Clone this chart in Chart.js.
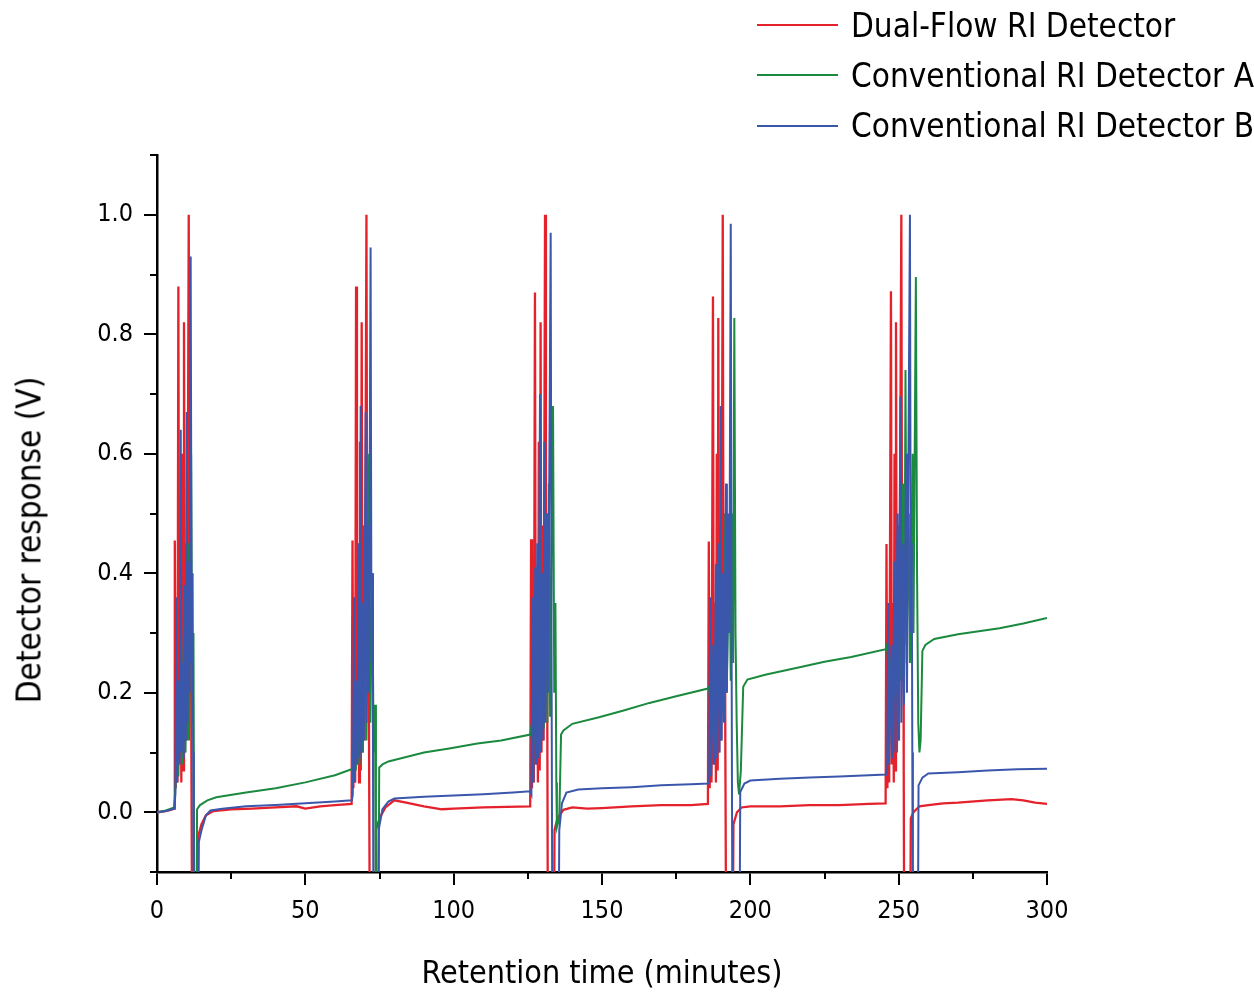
<!DOCTYPE html>
<html>
<head>
<meta charset="utf-8">
<script src="https://cdn.jsdelivr.net/npm/chart.js@4.4.1/dist/chart.umd.min.js"></script>
<style>
  body { margin: 0; background: #fff; }
  #wrap { position: relative; width: 1254px; height: 992px; font-family: "DejaVu Sans Condensed", "DejaVu Sans", sans-serif; font-stretch: condensed; color: #000; }
  #chart { position: absolute; left: 0; top: 0; }
  .legend-row { position: absolute; left: 757px; height: 33px; display: flex; align-items: center; font-size: 33px; line-height: 1; white-space: nowrap; }
  .legend-line { width: 81px; height: 2px; margin-right: 13px; }
  #ytitle { position: absolute; left: 28.5px; top: 540px; font-size: 33px; line-height: 1; white-space: nowrap; transform: translate(-50%, -50%) rotate(-90deg); }
</style>
</head>
<body>
<div id="wrap">
  <canvas id="chart" width="1254" height="992"></canvas>
  <div id="ytitle">Detector response (V)</div>
</div>
<script>
// ---------- Data (minutes, volts) ----------
const seriesNames = ["Dual-Flow RI Detector", "Conventional RI Detector A", "Conventional RI Detector B"];
const seriesColors = ["#e5212b", "#1b8a3f", "#3b57ac"];

const xTickValues = [0, 50, 100, 150, 200, 250, 300];
const xTickLabels = ["0", "50", "100", "150", "200", "250", "300"];
const xMinorTicks = [25, 75, 125, 175, 225, 275];
const yTickValues = [0, 0.2, 0.4, 0.6, 0.8, 1.0];
const yTickLabels = ["0.0", "0.2", "0.4", "0.6", "0.8", "1.0"];
const yMinorTicks = [-0.1, 0.1, 0.3, 0.5, 0.7, 0.9, 1.1];

const dualFlow = [
  [0, 0.0], [2, 0.001], [4, 0.003], [5.8, 0.006],
  [6.0, 0.455], [6.3, 0.04], [6.6, 0.30], [6.9, 0.05], [7.2, 0.88], [7.5, 0.09], [7.9, 0.35], [8.2, 0.05],
  [8.5, 0.60], [8.8, 0.07], [9.1, 0.82], [9.4, 0.10], [9.8, 0.45], [10.1, 0.12], [10.7, 1.0], [11.0, 0.20],
  [11.3, 0.55], [11.6, 0.08], [11.9, -0.3], [13.6, -0.3], [13.9, -0.04], [15, -0.02], [16.5, -0.005],
  [19, 0.002], [25, 0.005], [32, 0.006], [40, 0.008], [47, 0.010], [50, 0.006], [55, 0.010], [60, 0.012], [65.6, 0.014],
  [65.9, 0.455], [66.2, 0.04], [66.5, 0.32], [66.8, 0.05], [67.1, 0.88], [67.4, 0.08], [67.8, 0.35], [68.1, 0.05],
  [68.4, 0.62], [68.7, 0.07], [69.0, 0.82], [69.3, 0.10], [69.7, 0.48], [70.0, 0.12], [70.6, 1.0], [70.9, 0.22],
  [71.2, 0.58], [71.5, 0.08], [71.8, -0.3], [73.5, -0.3], [73.8, -0.03], [75, -0.01], [77, 0.008], [80, 0.020],
  [84, 0.016], [90, 0.010], [96, 0.005], [100, 0.006], [110, 0.008], [118, 0.009], [125.8, 0.010],
  [126.1, 0.457], [126.4, 0.04], [126.7, 0.30], [127.0, 0.05], [127.4, 0.87], [127.7, 0.08], [128.1, 0.35], [128.4, 0.05],
  [128.7, 0.62], [129.0, 0.07], [129.3, 0.82], [129.6, 0.10], [130.0, 0.48], [130.3, 0.12], [130.8, 1.0], [131.1, 0.22],
  [131.4, 0.50], [131.6, 0.08], [131.8, -0.3], [133.7, -0.3], [134.0, -0.03], [135, -0.01], [137, 0.004], [140, 0.008],
  [145, 0.006], [150, 0.007], [160, 0.010], [170, 0.012], [180, 0.012], [185.7, 0.014],
  [186.0, 0.453], [186.3, 0.04], [186.6, 0.30], [186.9, 0.05], [187.4, 0.863], [187.7, 0.08], [188.1, 0.35], [188.4, 0.05],
  [188.7, 0.60], [189.0, 0.07], [189.2, 0.827], [189.5, 0.10], [189.9, 0.48], [190.2, 0.12], [190.7, 1.0], [191.0, 0.22],
  [191.3, 0.50], [191.6, 0.08], [191.9, -0.3], [194.0, -0.3], [194.3, -0.02], [195.5, 0.0], [197, 0.008], [200, 0.010],
  [210, 0.010], [220, 0.012], [230, 0.012], [240, 0.014], [245.6, 0.015],
  [245.9, 0.449], [246.2, 0.04], [246.5, 0.30], [246.8, 0.05], [247.4, 0.872], [247.7, 0.08], [248.1, 0.35], [248.35, 0.05],
  [248.6, 0.60], [248.85, 0.07], [249.1, 0.82], [249.4, 0.10], [249.8, 0.48], [250.1, 0.12], [250.9, 1.0], [251.2, 0.22],
  [251.5, 0.50], [251.7, 0.08], [251.9, -0.3], [253.8, -0.3], [254.1, -0.01], [255, 0.0], [257, 0.010], [260, 0.012],
  [265, 0.015], [270, 0.016], [280, 0.020], [288, 0.022], [292, 0.020], [296, 0.016], [300, 0.014]
];

const detectorA = [
  [0, 0.0], [3, 0.003], [5.8, 0.008],
  [6.3, 0.05], [6.8, 0.15], [7.2, 0.06], [8.0, 0.25], [8.4, 0.08], [9.2, 0.35], [9.6, 0.10], [10.4, 0.45], [10.8, 0.12],
  [11.5, 0.60], [11.9, 0.15], [12.3, 0.30], [12.6, -0.3], [13.2, -0.3], [13.5, 0.005], [14.5, 0.012], [17, 0.020],
  [20, 0.025], [30, 0.033], [40, 0.040], [50, 0.050], [60, 0.062], [65.6, 0.072],
  [65.9, 0.08], [66.5, 0.12], [67.0, 0.07], [67.8, 0.22], [68.2, 0.08], [69.0, 0.35], [69.4, 0.10], [70.2, 0.45],
  [70.6, 0.12], [71.5, 0.60], [71.9, 0.15], [72.6, 0.40], [73.0, 0.10], [73.5, 0.18], [73.8, -0.3], [74.6, -0.3],
  [74.9, 0.075], [76, 0.080], [78, 0.085], [82, 0.090], [90, 0.100], [99, 0.107], [108, 0.115], [116, 0.120], [125.8, 0.130],
  [126.1, 0.14], [126.7, 0.10], [127.3, 0.16], [128.0, 0.12], [128.7, 0.30], [129.1, 0.13], [130.0, 0.40], [130.4, 0.14],
  [131.2, 0.50], [131.6, 0.15], [132.1, 0.55], [132.5, 0.16], [133.5, 0.68], [133.9, 0.20], [134.3, 0.35], [134.6, 0.05],
  [134.8, -0.025], [135.6, -0.01], [136.2, 0.13], [137, 0.137], [140, 0.148], [149, 0.159], [157, 0.170], [166, 0.183],
  [175, 0.194], [185.7, 0.207],
  [186.1, 0.21], [186.8, 0.16], [187.5, 0.22], [188.2, 0.17], [189.0, 0.30], [189.4, 0.18], [190.3, 0.40], [190.7, 0.19],
  [191.6, 0.50], [192.0, 0.20], [193.0, 0.45], [193.4, 0.22], [194.0, 0.50], [194.2, 0.25], [194.6, 0.827], [195.0, 0.30],
  [195.4, 0.15], [195.8, 0.05], [196.2, 0.03], [196.8, 0.07], [197.6, 0.21], [199, 0.222], [205, 0.230], [217, 0.243],
  [225, 0.252], [234, 0.260], [245.7, 0.273],
  [246.1, 0.28], [246.8, 0.22], [247.6, 0.26], [248.3, 0.20], [249.0, 0.30], [249.4, 0.21], [250.3, 0.45], [250.7, 0.22],
  [251.5, 0.55], [251.9, 0.25], [252.3, 0.74], [252.7, 0.28], [253.4, 0.50], [253.8, 0.25], [254.7, 0.60], [255.0, 0.30],
  [255.8, 0.896], [256.2, 0.40], [256.6, 0.15], [257.0, 0.10], [257.4, 0.12], [258.0, 0.27], [259, 0.280], [262, 0.290],
  [270, 0.298], [284, 0.308], [292, 0.316], [300, 0.325]
];

const detectorB = [
  [0, 0.0], [3, 0.002], [5.8, 0.006],
  [6.2, 0.03], [6.5, 0.36], [6.8, 0.05], [7.3, 0.22], [7.6, 0.08], [8.0, 0.64], [8.3, 0.10], [8.7, 0.25], [9.0, 0.09],
  [9.4, 0.38], [9.7, 0.12], [10.0, 0.67], [10.3, 0.15], [10.7, 0.42], [11.0, 0.20], [11.35, 0.93], [11.7, 0.25],
  [12.0, 0.40], [12.2, 0.10], [12.4, -0.3], [13.8, -0.3], [14.1, -0.05], [15, -0.03], [16.5, -0.005], [18, 0.003],
  [22, 0.006], [30, 0.010], [40, 0.012], [50, 0.015], [60, 0.018], [65.7, 0.020],
  [66.0, 0.03], [66.4, 0.36], [66.7, 0.05], [67.2, 0.22], [67.5, 0.08], [68.0, 0.45], [68.3, 0.09], [68.65, 0.68],
  [68.95, 0.10], [69.4, 0.35], [69.7, 0.12], [70.35, 0.67], [70.65, 0.15], [71.1, 0.48], [71.4, 0.20], [72.0, 0.945],
  [72.3, 0.25], [72.6, 0.40], [72.8, 0.10], [73.0, -0.3], [74.4, -0.3], [74.7, -0.03], [76, 0.005], [78, 0.018],
  [80, 0.023], [90, 0.026], [100, 0.028], [110, 0.030], [120, 0.033], [125.8, 0.035],
  [126.2, 0.03], [126.6, 0.36], [126.9, 0.05], [127.5, 0.41], [127.8, 0.08], [128.2, 0.45], [128.5, 0.09], [129.1, 0.70],
  [129.4, 0.10], [129.9, 0.40], [130.2, 0.12], [130.6, 0.62], [130.9, 0.15], [131.5, 0.50], [131.8, 0.20], [132.7, 0.97],
  [133.0, 0.25], [133.3, -0.3], [135.3, -0.3], [135.6, -0.03], [136.5, 0.015], [138, 0.033], [142, 0.038], [150, 0.040],
  [160, 0.042], [170, 0.045], [180, 0.047], [185.8, 0.048],
  [186.1, 0.05], [186.5, 0.36], [186.8, 0.06], [187.5, 0.28], [187.8, 0.08], [188.4, 0.415], [188.7, 0.09], [189.3, 0.45],
  [189.6, 0.10], [190.0, 0.68], [190.3, 0.12], [190.8, 0.40], [191.1, 0.15], [191.8, 0.55], [192.1, 0.20], [192.6, 0.50],
  [192.9, 0.30], [193.4, 0.985], [193.7, 0.25], [194.0, -0.3], [196.3, -0.3], [196.6, 0.034], [198, 0.048], [200, 0.053],
  [210, 0.056], [220, 0.058], [230, 0.060], [240, 0.062], [245.8, 0.063],
  [246.1, 0.07], [246.5, 0.35], [246.8, 0.08], [247.6, 0.28], [247.9, 0.09], [248.6, 0.42], [248.9, 0.10], [249.6, 0.50],
  [249.9, 0.12], [250.6, 0.696], [250.9, 0.15], [251.5, 0.45], [251.8, 0.18], [252.5, 0.60], [252.8, 0.20], [253.8, 1.0],
  [254.1, 0.30], [254.4, 0.45], [254.6, 0.10], [254.8, -0.3], [256.4, -0.3], [256.7, 0.045], [258, 0.058], [260, 0.065],
  [270, 0.067], [280, 0.070], [290, 0.072], [300, 0.073]
];

// ---------- Legend (HTML, top right) ----------
const legendTops = [8.5, 58.5, 109];
seriesNames.forEach((name, i) => {
  const row = document.createElement("div");
  row.className = "legend-row";
  row.style.top = legendTops[i] + "px";
  const line = document.createElement("span");
  line.className = "legend-line";
  line.style.background = seriesColors[i];
  const label = document.createElement("span");
  label.textContent = name;
  row.appendChild(line);
  row.appendChild(label);
  document.getElementById("wrap").appendChild(row);
});

// ---------- Minor ticks ----------
const minorTicks = {
  id: "minorTicks",
  afterDraw(chart) {
    const { ctx, chartArea, scales } = chart;
    ctx.save();
    ctx.strokeStyle = "#000";
    ctx.lineWidth = 2;
    ctx.beginPath();
    xMinorTicks.forEach((v) => {
      const px = Math.round(scales.x.getPixelForValue(v));
      ctx.moveTo(px, chartArea.bottom);
      ctx.lineTo(px, chartArea.bottom + 7);
    });
    yMinorTicks.forEach((v) => {
      const py = Math.round(scales.y.getPixelForValue(v));
      ctx.moveTo(chartArea.left, py);
      ctx.lineTo(chartArea.left - 7, py);
    });
    ctx.stroke();
    ctx.restore();
  },
};

// ---------- Chart ----------
Chart.defaults.font.family = '"DejaVu Sans Condensed", "DejaVu Sans", sans-serif';
Chart.defaults.color = "#000";

const tickFont = { size: 25 };

const makeSet = (i, data, width, order) => ({
  label: seriesNames[i],
  data: data,
  borderColor: seriesColors[i],
  borderWidth: width,
  pointRadius: 0,
  tension: 0,
  fill: false,
  order: order,
});

new Chart(document.getElementById("chart"), {
  type: "line",
  data: {
    datasets: [
      makeSet(0, dualFlow, 2.3, 2),
      makeSet(1, detectorA, 2, 1),
      makeSet(2, detectorB, 2, 0),
    ],
  },
  options: {
    responsive: false,
    animation: false,
    layout: { padding: { top: 155, right: 207, left: 0, bottom: 0 } },
    plugins: { legend: { display: false }, tooltip: { enabled: false } },
    scales: {
      x: {
        type: "linear",
        min: 0,
        max: 300,
        afterBuildTicks: (s) => { s.ticks = xTickValues.map((v) => ({ value: v })); },
        afterFit: (s) => { s.height = 120; },
        ticks: {
          callback: (v, i) => xTickLabels[i],
          font: tickFont,
          padding: 11,
          maxRotation: 0,
          autoSkip: false,
        },
        grid: { drawOnChartArea: false, tickLength: 13, color: "#000", lineWidth: 2 },
        border: { color: "#000", width: 2.5 },
        title: {
          display: true,
          text: "Retention time (minutes)",
          font: { size: 32, lineHeight: 1 },
          padding: { top: 0, bottom: 1 },
        },
      },
      y: {
        min: -0.1,
        max: 1.1,
        afterBuildTicks: (s) => { s.ticks = yTickValues.map((v) => ({ value: v })); },
        afterFit: (s) => { s.width = 157; },
        ticks: {
          callback: (v, i) => yTickLabels[i],
          font: tickFont,
          padding: 11,
        },
        grid: { drawOnChartArea: false, tickLength: 13, color: "#000", lineWidth: 2 },
        border: { color: "#000", width: 2.5 },
      },
    },
  },
  plugins: [minorTicks],
});
</script>
</body>
</html>
